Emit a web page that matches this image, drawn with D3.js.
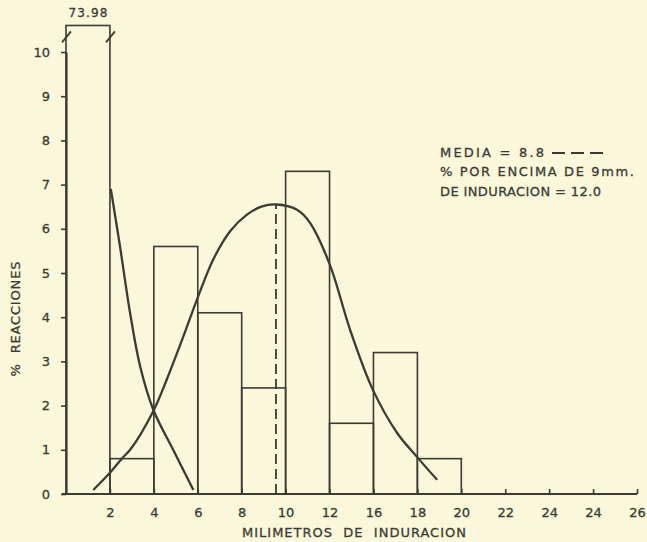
<!DOCTYPE html>
<html>
<head>
<meta charset="utf-8">
<script src="https://cdn.jsdelivr.net/npm/d3@7"></script>
<style>
  body { margin: 0; background: #faf7da; }
  svg { display: block; }
  text { font-family: "DejaVu Sans", sans-serif; fill: #3a3c34; stroke: #3a3c34; stroke-width: 0.3; }
</style>
</head>
<body>
<svg id="chart" width="647" height="542"></svg>
<script>
// x slots: 0 = origin, label i sits at slot i+1
const xLabels = ["2", "4", "6", "8", "10", "12", "16", "18", "20", "22", "24", "24", "26"];
const yTicks = [0, 1, 2, 3, 4, 5, 6, 7, 8, 9, 10];
// % reacciones per interval (first bar is broken, real value 73.98)
const barValues = [73.98, 0.8, 5.6, 4.1, 2.4, 7.3, 1.6, 3.2, 0.8];
const barCap = 10.6;
// curves: [slot, %]
const normalCurve = [
  [0.62, 0.09], [1.0, 0.48], [1.28, 0.81], [1.46, 1.0], [1.99, 1.88], [2.29, 2.58],
  [2.67, 3.56], [2.99, 4.42], [3.35, 5.3], [3.74, 5.95], [4.12, 6.32], [4.45, 6.5],
  [4.78, 6.55], [5.26, 6.43], [5.56, 6.13], [6.01, 5.18], [6.47, 3.71], [6.99, 2.35],
  [7.54, 1.38], [7.99, 0.84], [8.45, 0.32]
];
const decayCurve = [
  [1.02, 6.9], [1.23, 5.6], [1.46, 4.09], [1.69, 2.88], [1.99, 1.9], [2.44, 1.0], [2.9, 0.09]
];
const meanSlot = 4.78;
const meanTop = 6.55;
const legendLines = ["MEDIA = 8.8", "% POR ENCIMA DE 9mm.", "DE INDURACION = 12.0"];

const ink = "#3a3c34";
const svg = d3.select("#chart");

const x = d3.scaleLinear().domain([0, 13]).range([66, 637]);
const y = d3.scaleLinear().domain([0, 10]).range([494, 52]);

// bars
svg.append("g")
  .selectAll("rect")
  .data(barValues)
  .enter().append("rect")
    .attr("x", (d, i) => x(i))
    .attr("y", d => y(Math.min(d, barCap)))
    .attr("width", x(1) - x(0))
    .attr("height", d => y(0) - y(Math.min(d, barCap)))
    .attr("fill", "none")
    .attr("stroke", ink)
    .attr("stroke-width", 1.6);

// break marks on the tall bar
const brk = y(10.33);
svg.append("g")
  .selectAll("line")
  .data([0, 1])
  .enter().append("line")
    .attr("x1", d => x(d) - 4)
    .attr("x2", d => x(d) + 5)
    .attr("y1", brk + 5)
    .attr("y2", brk - 6)
    .attr("stroke", ink)
    .attr("stroke-width", 1.8);

svg.append("text")
  .attr("x", (x(0) + x(1)) / 2)
  .attr("y", 17)
  .attr("text-anchor", "middle")
  .attr("font-size", 12)
  .attr("textLength", 39)
  .text(barValues[0].toFixed(2));

// axes
const xAxis = svg.append("g")
  .attr("transform", `translate(0,${y(0)})`)
  .call(d3.axisBottom(x)
    .tickValues(d3.range(1, 14))
    .tickFormat(i => xLabels[i - 1])
    .tickSizeInner(-5)
    .tickSizeOuter(0)
    .tickPadding(14));

const yAxis = svg.append("g")
  .attr("transform", `translate(${x(0)},0)`)
  .call(d3.axisLeft(y)
    .tickValues(yTicks)
    .tickSizeInner(5)
    .tickSizeOuter(0)
    .tickPadding(11));

[xAxis, yAxis].forEach(g => {
  g.select(".domain").attr("stroke", ink).attr("stroke-width", 2.2);
  g.selectAll(".tick line").attr("stroke", ink).attr("stroke-width", 1.6);
  g.selectAll(".tick text").attr("font-size", 13).attr("fill", ink).attr("font-family", "DejaVu Sans, sans-serif");
});
xAxis.select(".domain").attr("d", `M${x(0) - 4},0H${x(13)}`);

// curves
const line = d3.line()
  .x(d => x(d[0]))
  .y(d => y(d[1]))
  .curve(d3.curveCatmullRom.alpha(0.5));

svg.append("path")
  .datum(normalCurve)
  .attr("d", line)
  .attr("fill", "none")
  .attr("stroke", ink)
  .attr("stroke-width", 2.3);

svg.append("path")
  .datum(decayCurve)
  .attr("d", line)
  .attr("fill", "none")
  .attr("stroke", ink)
  .attr("stroke-width", 2.3);

// mean line
svg.append("line")
  .attr("x1", x(meanSlot)).attr("x2", x(meanSlot))
  .attr("y1", y(0)).attr("y2", y(meanTop))
  .attr("stroke", ink)
  .attr("stroke-width", 1.8)
  .attr("stroke-dasharray", "10,5");

// axis titles
svg.append("text")
  .attr("x", 354)
  .attr("y", 537)
  .attr("text-anchor", "middle")
  .attr("font-size", 13)
  .attr("textLength", 224)
  .attr("lengthAdjust", "spacing")
  .attr("xml:space", "preserve")
  .text("MILIMETROS  DE  INDURACION");

svg.append("text")
  .attr("transform", "translate(20,319) rotate(-90)")
  .attr("text-anchor", "middle")
  .attr("font-size", 13)
  .attr("textLength", 115)
  .attr("lengthAdjust", "spacing")
  .attr("xml:space", "preserve")
  .text("%  REACCIONES");

// legend
const legendY = [157, 175.5, 195.5];
const legendW = [104, 194, 161];
svg.append("g")
  .selectAll("text")
  .data(legendLines)
  .enter().append("text")
    .attr("x", 440)
    .attr("y", (d, i) => legendY[i])
    .attr("font-size", 13)
    .attr("textLength", (d, i) => legendW[i])
    .attr("lengthAdjust", "spacing")
    .text(d => d);

svg.append("line")
  .attr("x1", 552).attr("x2", 603)
  .attr("y1", 153).attr("y2", 153)
  .attr("stroke", ink)
  .attr("stroke-width", 1.8)
  .attr("stroke-dasharray", "13,6");
</script>
</body>
</html>
